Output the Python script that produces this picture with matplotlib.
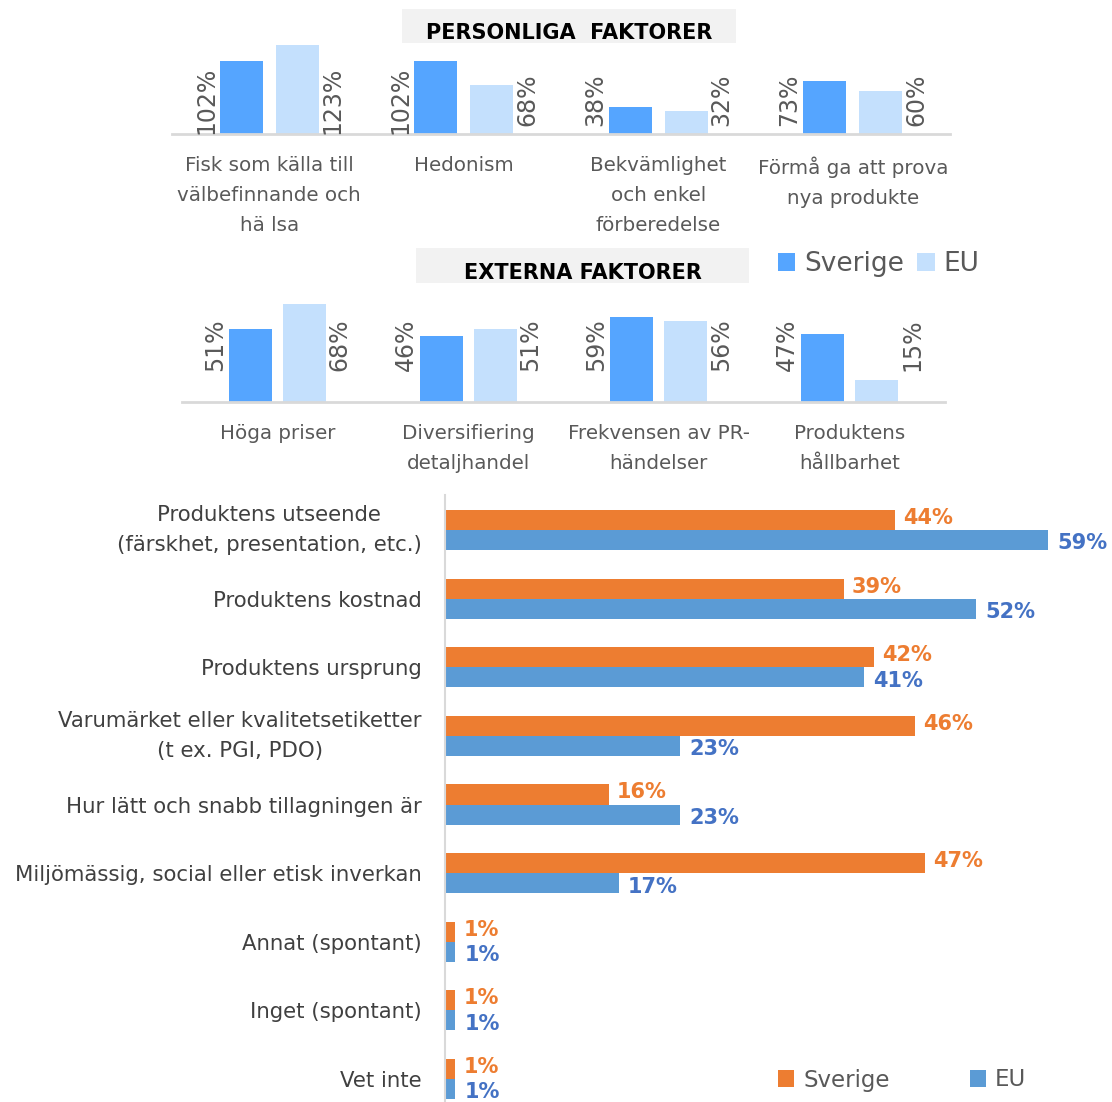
import numpy as np
import matplotlib
matplotlib.use('Agg')
import matplotlib.pyplot as plt
from matplotlib.patches import Rectangle

plt.rcParams['font.family'] = ['DejaVu Sans']

# Personliga faktorer
pers_cats = ["Fisk som källa till\nvälbefinnande och\nhä lsa", "Hedonism",
             "Bekvämlighet\noch enkel\nförberedelse", "Förmå ga att prova\nnya produkte"]
pers_se = [102, 102, 38, 73]
pers_eu = [123, 68, 32, 60]

# Externa faktorer
ext_cats = ["Höga priser", "Diversifiering\ndetaljhandel",
            "Frekvensen av PR-\nhändelser", "Produktens\nhållbarhet"]
ext_se = [51, 46, 59, 47]
ext_eu = [68, 51, 56, 15]

# Horisontellt diagram
h_cats = ["Produktens utseende\n(färskhet, presentation, etc.)",
          "Produktens kostnad",
          "Produktens ursprung",
          "Varumärket eller kvalitetsetiketter\n(t ex. PGI, PDO)",
          "Hur lätt och snabb tillagningen är",
          "Miljömässig, social eller etisk inverkan",
          "Annat (spontant)",
          "Inget (spontant)",
          "Vet inte"]
h_se = [44, 39, 42, 46, 16, 47, 1, 1, 1]
h_eu = [59, 52, 41, 23, 23, 17, 1, 1, 1]

W, H = 1112, 1102
fig = plt.figure(figsize=(W / 100, H / 100), dpi=100)

C_SE = '#55A5FF'
C_EU = '#C4E0FD'
GREY = '#595959'


def px_axes(x0, x1, y_top, y_bot):
    return fig.add_axes([x0 / W, 1 - y_bot / H, (x1 - x0) / W, (y_bot - y_top) / H])


def title_box(x0, x1, y0, y1, text, ty):
    fig.patches.append(Rectangle((x0 / W, 1 - y1 / H), (x1 - x0) / W, (y1 - y0) / H,
                                 transform=fig.transFigure, facecolor='#F2F2F2',
                                 edgecolor='none', zorder=0))
    fig.text((x0 + x1) / 2 / W, 1 - ty / H, text, ha='center', va='center',
             fontsize=15, fontweight='bold', color='black')


def small_chart(ax, cats, se, eu, ymax, off, bw, label_y):
    x = np.arange(len(cats))
    ax.bar(x - off, se, bw, color=C_SE, label='Sverige')
    ax.bar(x + off, eu, bw, color=C_EU, label='EU')
    for i in range(len(cats)):
        ax.text(x[i] - off - bw / 2 - 0.01, label_y, f"{se[i]}%", rotation=90,
                ha='right', va='center', fontsize=17, color=GREY)
        ax.text(x[i] + off + bw / 2 + 0.01, label_y, f"{eu[i]}%", rotation=90,
                ha='left', va='center', fontsize=17, color=GREY)
    ax.set_xlim(-0.5, len(cats) - 0.5)
    ax.set_ylim(0, ymax)
    ax.set_xticks(x)
    ax.set_xticklabels(cats, fontsize=14.3, color=GREY, linespacing=1.72)
    ax.tick_params(axis='x', length=0, pad=16)
    ax.set_yticks([])
    for s in ['top', 'right', 'left']:
        ax.spines[s].set_visible(False)
    ax.spines['bottom'].set_color('#D9D9D9')
    ax.spines['bottom'].set_linewidth(2)


# Personliga
title_box(402, 736, 9, 43, "PERSONLIGA  FAKTORER", 33)
ax1 = px_axes(172, 950, 40, 134)
small_chart(ax1, pers_cats, pers_se, pers_eu, 94 / 0.72, 0.1436, 0.22, 47)

# Externa
title_box(416, 749, 248, 283, "EXTERNA FAKTORER", 273)
ax2 = px_axes(182, 945, 298, 402)
small_chart(ax2, ext_cats, ext_se, ext_eu, 104 / 1.44, 0.1415, 0.225, 40)
fig.legend(handles=ax2.containers, labels=['Sverige', 'EU'],
           loc='center left', bbox_to_anchor=(778 / W, 1 - 264 / H), ncol=2,
           frameon=False, fontsize=19, handlelength=0.65, handleheight=0.65,
           handletextpad=0.35, columnspacing=0.5, labelcolor=GREY,
           borderaxespad=0, borderpad=0)

# Horisontellt
ax3 = px_axes(445, 1110, 495, 1102)
y = np.arange(len(h_cats))
bh = 20 / 68.6
ax3.barh(y - bh / 2, h_se, bh, color='#ED7D31', label='Sverige')
ax3.barh(y + bh / 2, h_eu, bh, color='#5B9BD5', label='EU')
for i in range(len(h_cats)):
    ax3.text(h_se[i] + 0.8, y[i] - bh / 2 - 0.03, f"{h_se[i]}%", ha='left', va='center',
             fontsize=15, fontweight='bold', color='#ED7D31')
    ax3.text(h_eu[i] + 0.9, y[i] + bh / 2 + 0.05, f"{h_eu[i]}%", ha='left', va='center',
             fontsize=15, fontweight='bold', color='#4472C4')
ax3.set_xlim(0, 665 / 10.22)
ax3.set_ylim(len(h_cats) - 1 + 23 / 68.6, -35 / 68.6)
ax3.set_yticks(y)
ax3.set_yticklabels(h_cats, fontsize=15.3, color='#404040', linespacing=1.64)
for t in ax3.get_yticklabels():
    t.set_multialignment('center')
    if '\n' in t.get_text():
        t.set_verticalalignment('center')
ax3.tick_params(axis='y', length=0, pad=17)
ax3.set_xticks([])
for s in ['top', 'right', 'bottom']:
    ax3.spines[s].set_visible(False)
ax3.spines['left'].set_color('#D9D9D9')
ax3.spines['left'].set_linewidth(1.5)
fig.legend(handles=ax3.containers, labels=['Sverige', 'EU'],
           loc='center left', bbox_to_anchor=(778 / W, 1 - 1080 / H), ncol=2,
           frameon=False, fontsize=16.5, handlelength=0.7, handleheight=0.7,
           handletextpad=0.4, columnspacing=3.5, labelcolor=GREY,
           borderaxespad=0, borderpad=0)

fig.savefig('out.png', dpi=100)
